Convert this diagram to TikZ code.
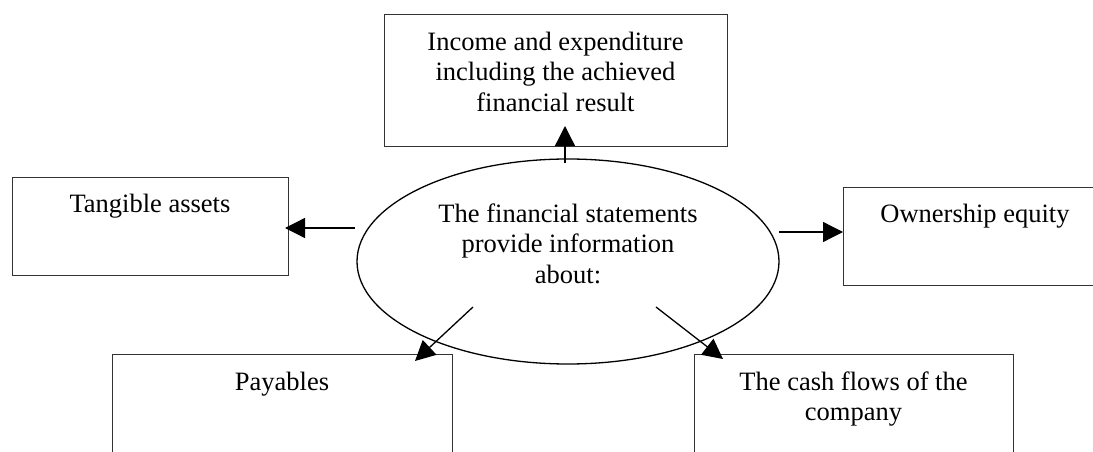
\documentclass[tikz,border=0pt]{standalone}
\usepackage{fontspec}
\setmainfont{Liberation Serif}
\usetikzlibrary{arrows.meta,shapes.geometric}
\begin{document}
\begin{tikzpicture}[x=1pt,y=1pt,
  box/.style={draw=black!80, line width=1.2pt, rectangle, inner sep=0pt, anchor=north west},
  lbl/.style={font=\fontsize{26.5}{30.5}\selectfont, align=center, inner sep=0pt, anchor=north},
  arr/.style={line width=1.3pt, -{Triangle[length=20pt,width=20pt]}}]
\useasboundingbox (0,0) rectangle (1093,-452);
\clip (0,0) rectangle (1093,-452);
% boxes
\node[box, minimum width=343pt, minimum height=132pt] (income) at (384,-14) {};
\node[box, minimum width=276pt, minimum height=98pt] (tangible) at (12,-177) {};
\node[box, minimum width=270pt, minimum height=98pt] (equity) at (843,-187) {};
\node[box, minimum width=340pt, minimum height=98pt] (payables) at (112,-354) {};
\node[box, minimum width=319pt, minimum height=110pt] (cash) at (694,-354) {};
% ellipse
\node[draw=black, line width=1.3pt, ellipse, minimum width=422pt, minimum height=205pt, inner sep=0pt] (center) at (568,-261.5) {};
% texts
\node[lbl] (incomet) at (555.5,-28.65) {\strut Income and expenditure\\including the achieved\\financial result};
\node[lbl] (tangiblet) at (150,-190.65) {\strut Tangible assets};
\node[lbl] (equityt) at (975,-200.65) {\strut Ownership equity};
\node[lbl] (payablest) at (282,-368.65) {\strut Payables};
\node[lbl] (casht) at (853.5,-368.65) {\strut The cash flows of the\\company};
\node[lbl] (centert) at (568,-200.65) {\strut The financial statements\\provide information\\about:};
% arrow end points
\coordinate (upS) at (565,-163);
\coordinate (upE) at (565,-126);
\coordinate (leftS) at (355,-228);
\coordinate (leftE) at (285,-228);
\coordinate (rightS) at (779,-232);
\coordinate (rightE) at (843,-232);
\coordinate (dlS) at (473,-307);
\coordinate (dlE) at (415,-361);
\coordinate (drS) at (656,-307);
\coordinate (drE) at (723,-359);
\draw[arr] (upS) -- (upE);
\draw[arr] (leftS) -- (leftE);
\draw[arr] (rightS) -- (rightE);
\draw[arr] (dlS) -- (dlE);
\draw[arr] (drS) -- (drE);
\end{tikzpicture}
\end{document}
